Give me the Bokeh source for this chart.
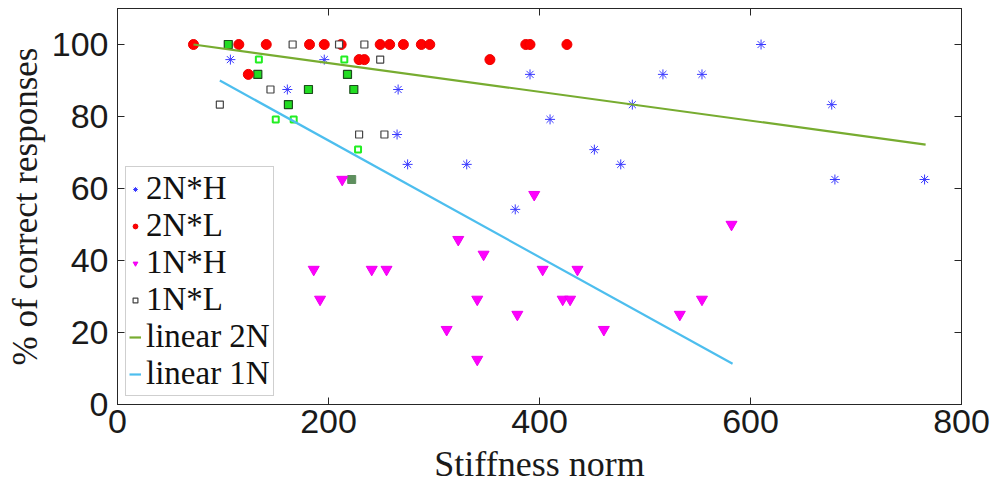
from bokeh.plotting import figure
from bokeh.models import Range1d, LinearAxis, Legend, LegendItem, FixedTicker, CustomJSTickFormatter
from bokeh.embed import file_html
from bokeh.resources import INLINE

# ---- data ----
h2_x = [107, 196, 161, 266, 265, 275, 331, 377, 391, 410, 452, 477, 488, 517, 554, 610, 677, 680, 765]
h2_y = [95.8, 95.8, 87.5, 87.5, 75.0, 66.7, 66.7, 54.2, 91.7, 79.2, 70.8, 66.7, 83.3, 91.7, 91.7, 100.0, 83.3, 62.5, 62.5]

l2_x = [72, 115, 141, 182, 196, 212, 249, 258, 271, 288, 296, 387, 391, 426, 229, 234, 353, 124]
l2_y = [100.0, 100.0, 100.0, 100.0, 100.0, 100.0, 100.0, 100.0, 100.0, 100.0, 100.0, 100.0, 100.0, 100.0, 95.8, 95.8, 95.8, 91.7]

h1_x = [213, 395, 582, 323, 347, 186, 241, 255, 403, 436, 192, 341, 422, 429, 554, 379, 533, 312, 461, 341]
h1_y = [62.5, 58.3, 50.0, 45.8, 41.7, 37.5, 37.5, 37.5, 37.5, 37.5, 29.2, 29.2, 29.2, 29.2, 29.2, 25.0, 25.0, 20.8, 20.8, 12.5]

l1_x = [97, 166, 210, 234, 145, 249, 229, 253]
l1_y = [83.3, 100.0, 100.0, 100.0, 87.5, 95.8, 75.0, 75.0]

g1_x = [105, 133, 218, 181, 224, 162]
g1_y = [100.0, 91.7, 91.7, 87.5, 87.5, 83.3]
g2_x = [134, 215, 150, 167, 228]
g2_y = [95.8, 95.8, 79.2, 79.2, 70.8]
g3_x = [222]
g3_y = [62.5]

fit2_x = [72, 766]
fit2_y = [100.0, 72.2]
fit1_x = [97, 583]
fit1_y = [90.0, 11.3]

x_ticks = [0, 200, 400, 600, 800]
y_ticks = [0, 20, 40, 60, 80, 100]

SERIF = "Liberation Serif"
SANS = "Liberation Sans"
AX = "#262626"

p = figure(width=990, height=493, x_range=Range1d(0, 800), y_range=Range1d(0, 110),
           output_backend="svg", toolbar_location=None,
           min_border_left=117, min_border_right=29, min_border_top=8, min_border_bottom=89)
p.xgrid.visible = False
p.ygrid.visible = False
p.outline_line_color = AX
p.outline_line_width = 1
p.background_fill_color = "white"
p.border_fill_color = "white"

for ax in (p.xaxis[0], p.yaxis[0]):
    ax.axis_line_color = AX
    ax.major_tick_line_color = AX
    ax.major_tick_in = 7
    ax.major_tick_out = 0
    ax.minor_tick_line_color = None
    ax.major_label_text_font = SANS
    ax.major_label_text_font_size = "34px"
    ax.major_label_text_color = "#1a1a1a"
    ax.axis_label_text_font = SERIF
    ax.axis_label_text_font_style = "normal"
    ax.axis_label_text_color = "#1a1a1a"

p.xaxis[0].ticker = FixedTicker(ticks=x_ticks)
p.yaxis[0].ticker = FixedTicker(ticks=y_ticks)
p.xaxis[0].axis_label = "Stiffness norm"
p.yaxis[0].axis_label = "% of correct responses"
p.xaxis[0].axis_label_text_font_size = "36px"
p.yaxis[0].axis_label_text_font_size = "35px"
p.xaxis[0].major_label_standoff = 5
p.yaxis[0].major_label_standoff = 9
p.xaxis[0].axis_label_standoff = 8
p.yaxis[0].axis_label_standoff = 4

# box ticks on right and top
blank = CustomJSTickFormatter(code="return ''")
ra = LinearAxis(ticker=FixedTicker(ticks=y_ticks), formatter=blank)
ta = LinearAxis(ticker=FixedTicker(ticks=x_ticks), formatter=blank)
for ax in (ra, ta):
    ax.axis_line_color = AX
    ax.major_tick_line_color = AX
    ax.major_tick_in = 7
    ax.major_tick_out = 0
    ax.minor_tick_line_color = None
    ax.major_label_standoff = 0
    ax.major_label_text_font_size = "1px"
    ax.major_label_text_color = None
p.add_layout(ra, "right")
p.add_layout(ta, "above")

# extra green squares (not in legend)
p.scatter(g3_x, g3_y, marker="square", size=8, fill_color="#5e8f5e", line_color="#5e8f5e")
p.scatter(g1_x, g1_y, marker="square", size=8, fill_color="#22dd22", line_color="#1d4d1d", line_width=1.2)
p.scatter(g2_x, g2_y, marker="square", size=6, fill_color="white", line_color="#22ee22", line_width=2)

r_h2 = p.scatter(h2_x, h2_y, marker="asterisk", size=10, line_color="#3a3aff", line_width=1)
r_l2 = p.scatter(l2_x, l2_y, marker="circle", size=10, fill_color="#ff0000", line_color="#ee0000")
r_h1 = p.scatter(h1_x, h1_y, marker="inverted_triangle", size=11, fill_color="#ff00ff", line_color="#ee00ee")
r_l1 = p.scatter(l1_x, l1_y, marker="square", size=7, fill_color="white", line_color="#444444", line_width=1.2)

r_f2 = p.line(fit2_x, fit2_y, line_color="#77ac30", line_width=2.2)
r_f1 = p.line(fit1_x, fit1_y, line_color="#4dbeee", line_width=2.2)

legend = Legend(items=[
    LegendItem(label="2N*H", renderers=[r_h2]),
    LegendItem(label="2N*L", renderers=[r_l2]),
    LegendItem(label="1N*H", renderers=[r_h1]),
    LegendItem(label="1N*L", renderers=[r_l1]),
    LegendItem(label="linear 2N", renderers=[r_f2]),
    LegendItem(label="linear 1N", renderers=[r_f1]),
], location="bottom_left")
legend.margin = 8
legend.padding = 3
legend.spacing = 0
legend.glyph_width = 12
legend.glyph_height = 30
legend.label_height = 30
legend.label_standoff = 5
legend.label_text_font = SERIF
legend.label_text_font_size = "33px"
legend.label_text_color = "#111111"
legend.border_line_color = "#a0a0a0"
legend.border_line_width = 1
legend.background_fill_color = "white"
legend.background_fill_alpha = 1.0
p.add_layout(legend)

open("out.html", "w").write(file_html(p, INLINE))
